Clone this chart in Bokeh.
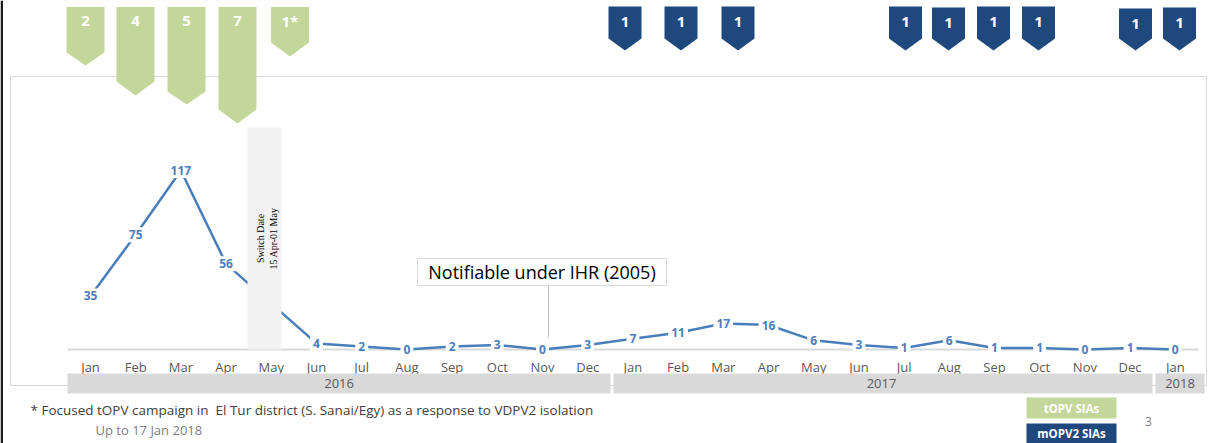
from math import pi
from bokeh.plotting import figure
from bokeh.models import Range1d, ColumnDataSource
from bokeh.core.properties import value
from bokeh.embed import file_html
from bokeh.resources import INLINE

# ---------------- data ----------------
months = ["Jan", "Feb", "Mar", "Apr", "May", "Jun", "Jul", "Aug", "Sep", "Oct", "Nov", "Dec",
          "Jan", "Feb", "Mar", "Apr", "May", "Jun", "Jul", "Aug", "Sep", "Oct", "Nov", "Dec",
          "Jan"]
cases = [35, 75, 117, 56, 30, 4, 2, 0, 2, 3, 0, 3,
         7, 11, 17, 16, 6, 3, 1, 6, 1, 1, 0, 1,
         0]
years = ["2016", "2017", "2018"]
year_first = [0, 12, 24]
year_last = [11, 23, 24]
topv_labels = ["2", "4", "5", "7", "1*"]
mopv2_labels = ["1", "1", "1", "1", "1", "1", "1", "1", "1"]
footnote = "* Focused tOPV campaign in\u00a0 El Tur district (S. Sanai/Egy) as a response to VDPV2 isolation"
updated = "Up to 17 Jan 2018"
ihr_note = "Notifiable under IHR (2005)"
ihr_month = 10

# ---------------- layout (pixels) ----------------
W, H = 1211, 443
X0, DX = 90.0, 45.2      # x of first month, spacing
YB, DY = 349.0, 1.53     # y of zero, px per case


def X(px):
    return (px - X0) / DX


def Y(py):
    return (YB - py) / DY


topv_cx = [85, 135, 186, 237, 289.5]
topv_body = [52, 81, 91, 109, 42]
topv_tip = [65, 95, 104, 123, 56]
mopv_cx = [624.5, 680.5, 737.5, 905, 948, 993, 1038, 1135, 1179]
mopv_top = [6, 6, 6, 6, 7, 6, 6, 8, 7]

GREEN = "#c4d79b"
NAVY = "#1f497d"
LINE = "#4a7ebb"
GREY_TXT = "#595959"
FONT = value("Open Sans")

p = figure(width=W, height=H, output_backend="svg", toolbar_location=None,
           x_range=Range1d(X(0), X(W)), y_range=Range1d(Y(H), Y(0)),
           min_border=0)
p.axis.visible = False
p.grid.visible = False
p.outline_line_color = None
p.background_fill_color = "white"
p.border_fill_color = "white"

# slide edge
p.quad(left=X(0), right=X(2.5), top=Y(0), bottom=Y(H), fill_color="#1a1a1a", line_color=None)

# chart frame
p.quad(left=X(10), right=X(1206), top=Y(76), bottom=Y(385),
       fill_color=None, line_color="#d9d9d9", line_width=1)

# axis line
p.segment(x0=[X(67)], y0=[0], x1=[X(1198)], y1=[0], line_color="#d9d9d9", line_width=2)

# series line
src = ColumnDataSource(dict(x=list(range(len(cases))), y=cases, lab=[str(c) for c in cases]))
p.line("x", "y", source=src, line_color=LINE, line_width=2.5)
p.text("x", "y", text="lab", source=src, text_color=LINE, text_font=FONT,
       text_font_size="12px", text_font_style="bold", text_align="center",
       text_baseline="middle", background_fill_color="white", padding=3)

# switch date box
p.quad(left=X(247), right=X(281), top=Y(127), bottom=0, fill_color="#f2f2f2", line_color=None)
p.text(x=[X(260), X(272.5)], y=[Y(238), Y(238)], text=["Switch Date", "15 Apr-01 May"],
       angle=pi / 2, text_font=value("Liberation Serif"), text_font_size="10px",
       text_color="black", text_align="center", text_baseline="middle")

# notifiable box
p.segment(x0=[X(548)], y0=[Y(284)], x1=[X(548)], y1=[Y(337)], line_color="#bfbfbf", line_width=1)
p.quad(left=X(417), right=X(666), top=Y(258), bottom=Y(285), fill_color="white",
       line_color="#d9d9d9", line_width=1)
p.text(x=[X(541.5)], y=[Y(271.5)], text=[ihr_note], text_font=FONT, text_font_size="18px",
       text_color="black", text_align="center", text_baseline="middle")

# month labels
p.text(x=list(range(len(months))), y=[Y(366)] * len(months), text=months, text_font=FONT,
       text_font_size="13px", text_color=GREY_TXT, text_align="center", text_baseline="middle")

# year bands
band_l = [X(67), X(613), X(1155)]
band_r = [X(610), X(1152), X(1204)]
p.quad(left=band_l, right=band_r, top=Y(373), bottom=Y(393), fill_color="#d9d9d9", line_color=None)
yr_x = [(a + b) / 2 for a, b in zip(year_first, year_last)]
yr_x[2] = (X(1155) + X(1204)) / 2
p.text(x=yr_x, y=[Y(383)] * 3, text=years, text_font=FONT, text_font_size="13px",
       text_color=GREY_TXT, text_align="center", text_baseline="middle")


# SIA markers
def arrows(cx, top, body, tip, hw):
    xs, ys = [], []
    for c, t, b, tp in zip(cx, top, body, tip):
        xs.append([X(c - hw), X(c + hw), X(c + hw), X(c), X(c - hw)])
        ys.append([Y(t), Y(t), Y(b), Y(tp), Y(b)])
    return xs, ys


gx, gy = arrows(topv_cx, [6.5] * 5, topv_body, topv_tip, 19)
p.patches(gx, gy, fill_color=GREEN, line_color=None)
p.text(x=[X(c) for c in topv_cx], y=[Y(20)] * 5, text=topv_labels, text_font=FONT,
       text_font_size="15px", text_font_style="bold", text_color="white",
       text_align="center", text_baseline="middle")

bx, by = arrows(mopv_cx, mopv_top, [38] * 9, [50] * 9, 16.5)
p.patches(bx, by, fill_color=NAVY, line_color=None)
p.text(x=[X(c) for c in mopv_cx], y=[Y(t + 15) for t in mopv_top], text=mopv2_labels, text_font=FONT,
       text_font_size="15px", text_font_style="bold", text_color="white",
       text_align="center", text_baseline="middle")

# footnotes
p.text(x=[X(30)], y=[Y(409)], text=[footnote], text_font=FONT, text_font_size="13.5px",
       text_color="#404040", text_align="left", text_baseline="middle")
p.text(x=[X(95)], y=[Y(429)], text=[updated], text_font=FONT, text_font_size="13px",
       text_color="#808080", text_align="left", text_baseline="middle")

# legend boxes
p.quad(left=[X(1026)] * 2, right=[X(1116)] * 2, top=[Y(397), Y(423)], bottom=[Y(418), Y(444)],
       fill_color=[GREEN, NAVY], line_color=None)
p.text(x=[X(1071)] * 2, y=[Y(407.5), Y(433)], text=["tOPV SIAs", "mOPV2 SIAs"], text_font=FONT,
       text_font_size="11.5px", text_font_style="bold", text_color="white",
       text_align="center", text_baseline="middle")
p.text(x=[X(1148)], y=[Y(421)], text=["3"], text_font=FONT, text_font_size="12px",
       text_color="#808080", text_align="center", text_baseline="middle")

open("out.html", "w").write(file_html(p, INLINE))
